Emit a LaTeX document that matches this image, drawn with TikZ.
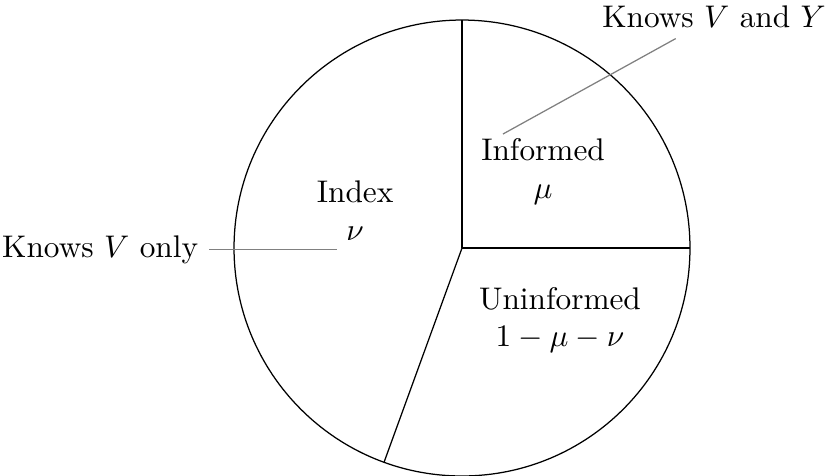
\documentclass[tikz,border=0pt]{standalone}
\usepackage{amsmath}
\usetikzlibrary{positioning}
\tikzset{slice/.style={draw=black,line width=.4pt},
 share/.style={align=center},
 lead/.style={draw=gray,line width=.4pt}}
\begin{document}
\begin{tikzpicture}
\useasboundingbox (-5.188,-2.56) rectangle (4.076,2.785);
\coordinate (c) at (0,0);
\draw[slice] (c) circle (2.56);
\foreach \a in {90,0,250}\draw[slice] (c)--(\a:2.56);
\node[share] (inf) at (0.91,0.86) {Informed\\$\mu$};
\node[share] (idx) at (-1.20,0.42) {Index\\$\nu$};
\node[share] (uni) at (1.10,-0.81) {Uninformed\\$1-\mu-\nu$};
\node[anchor=base] (kvy) at (2.83,2.48) {Knows $V$ and $Y$};
\node[anchor=east] (kvo) at (-2.84,-0.02) {Knows $V$ only};
\coordinate (infend) at (0.46,1.28);
\coordinate (idxend) at (-1.40,-0.02);
\draw[lead] ([xshift=-4.3mm]kvy.south)--(infend);
\draw[lead] (kvo.east)--(idxend);
\end{tikzpicture}
\end{document}
